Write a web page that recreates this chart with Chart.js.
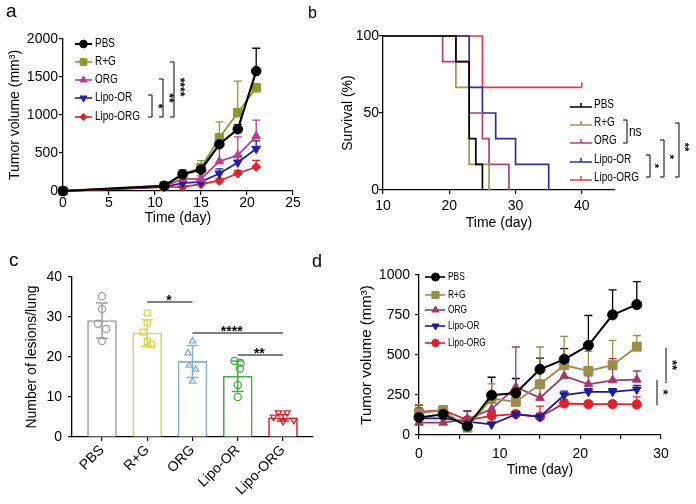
<!DOCTYPE html>
<html><head><meta charset="utf-8">
<script src="https://cdn.jsdelivr.net/npm/chart.js@4.4.1/dist/chart.umd.min.js"></script>
<style>
html,body{margin:0;padding:0;background:#fff;}
#wrap{position:relative;width:696px;height:504px;overflow:hidden;background:#fff;}
canvas{position:absolute;}
.lbl{position:absolute;font-family:"Liberation Sans",Arial,sans-serif;color:#000;line-height:20px;z-index:5;}
</style></head><body>
<div id="wrap">
<canvas id="ca" style="left:0;top:0;width:348px;height:252px" width="348" height="252"></canvas>
<canvas id="cb" style="left:330px;top:0;width:366px;height:252px" width="366" height="252"></canvas>
<canvas id="cc" style="left:0;top:252px;width:348px;height:252px" width="348" height="252"></canvas>
<canvas id="cd" style="left:348px;top:252px;width:348px;height:252px" width="348" height="252"></canvas>
<div class="lbl" style="left:6px;top:1px;font-size:19px">a</div>
<div class="lbl" style="left:308px;top:3px;font-size:16px">b</div>
<div class="lbl" style="left:9px;top:250px;font-size:19px">c</div>
<div class="lbl" style="left:312px;top:251px;font-size:18px">d</div>
</div>
<script>
// ---------------- DATA ----------------
const groups = ['PBS', 'R+G', 'ORG', 'Lipo-OR', 'Lipo-ORG'];

// Panel a: tumor volume (mm3) vs day
const daysA = [0, 11, 13, 15, 17, 19, 21];
const volA_PBS     = [0, 68, 220, 280, 615, 813, 1578];
const volA_RG      = [0, 70, 225, 305, 700, 1030, 1358];
const volA_ORG     = [0, 60, 160, 160, 390, 470, 720];
const volA_LipoOR  = [0, 55, 105, 120, 230, 375, 555];
const volA_LipoORG = [0, 50, 55, 90, 135, 230, 316];
const errA_PBS     = [0, 10, 30, 40, 40, 60, 300];
const errA_RG      = [0, 10, 25, 95, 210, 415, 40];
const errA_ORG     = [0, 10, 20, 40, 256, 242, 212];
const errA_LipoOR  = [0, 10, 20, 25, 60, 90, 104];
const errA_LipoORG = [0, 10, 15, 20, 30, 40, 88];

// Panel b: survival (%) vs day (Kaplan-Meier steps)
const survT_PBS     = [10, 21, 23, 24, 25];
const survS_PBS     = [100, 83.3, 33.3, 16.7, 0];
const survT_RG      = [10, 21, 23, 26];
const survS_RG      = [100, 66.7, 16.7, 0];
const survT_ORG     = [10, 19, 23, 25, 26, 29];
const survS_ORG     = [100, 83.3, 50, 33.3, 16.7, 0];
const survT_LipoOR  = [10, 23, 25, 27, 30, 35];
const survS_LipoOR  = [100, 66.7, 50, 33.3, 16.7, 0];
const survT_LipoORG = [10, 25, 40];
const survS_LipoORG = [100, 66.7, 66.7];

// Panel c: number of lesions/lung
const lesionMean = [29.1, 26.0, 18.9, 15.2, 4.8];
const lesionSD   = [4.4, 3.3, 4.0, 3.8, 0.8];
const lesionPts  = [[35.2, 32, 28.3, 27, 24], [31, 28.5, 26.2, 23.9, 23.1], [24, 21, 17.9, 16.9, 13.9], [19.0, 18.5, 17.1, 13.0, 10.0], [6.1, 6.1, 5.0, 4.2, 3.9]];
const lesionJit  = [[0, 0, -0.09, 0.09, 0], [0, 0, -0.09, 0, 0.1], [0, -0.1, -0.07, 0.07, 0], [-0.07, 0.06, 0.05, 0, 0], [-0.1, 0.09, -0.21, 0.24, 0]];

// Panel d: tumor volume (mm3) vs day
const daysD = [0, 3, 6, 9, 12, 15, 18, 21, 24, 27];
const volD_PBS     = [110, 130, 56, 249, 263, 411, 473, 560, 751, 815];
const volD_RG      = [135, 155, 46, 228, 207, 317, 436, 400, 436, 552];
const volD_ORG     = [77, 77, 98, 162, 300, 232, 369, 317, 342, 346];
const volD_LipoOR  = [104, 104, 83, 66, 129, 114, 249, 270, 270, 284];
const volD_LipoORG = [145, 156, 93, 120, 131, 114, 197, 193, 193, 191];
const errD_PBS     = [77, 40, 94, 112, 90, 70, 67, 187, 156, 143];
const errD_RG      = [55, 25, 45, 92, 80, 233, 180, 123, 155, 70];
const errD_ORG     = [25, 25, 52, 38, 250, 60, 77, 53, 135, 54];
const errD_LipoOR  = [26, 16, 17, 14, 11, 16, 25, 20, 20, 26];
const errD_LipoORG = [25, 14, 17, 20, 19, 66, 23, 17, 17, 47];

// ---------------- STYLE ----------------
const FONT = '"Liberation Sans", Arial, Helvetica, sans-serif';
Chart.defaults.font.family = FONT;
Chart.defaults.color = '#000';

const colA = ['#000000', '#8c9a2a', '#c23a8e', '#1f1fa8', '#e0202a'];
const colB = ['#000000', '#9a9a50', '#b04080', '#2e2e9e', '#e23c4a'];
const colC = ['#a0a0a0', '#d8d84a', '#86aed4', '#40b040', '#d8202a'];
const colD = ['#000000', '#9a8e48', '#a03868', '#1c1c9c', '#e0202a'];

const plain = v => String(v);
function gridOpts() { return {drawOnChartArea: false, drawTicks: true, tickLength: 4, color: '#000', lineWidth: 1.2}; }
function borderOpts() { return {display: true, color: '#000', width: 1.3}; }

function mkLine(label, xs, ys, errs, color, style, r, bw, rot) {
  return { label, data: xs.map((x, i) => ({x, y: ys[i]})), errUp: errs,
    borderColor: color, backgroundColor: color, pointBackgroundColor: color, pointBorderColor: color,
    pointStyle: style, pointRadius: r, pointRotation: rot || 0, pointBorderWidth: 1,
    borderWidth: bw, clip: false, tension: 0 };
}

function marker(ctx, style, r, rot, x, y, color) {
  ctx.save();
  ctx.fillStyle = color; ctx.strokeStyle = color; ctx.lineWidth = 1;
  if (Chart.helpers && Chart.helpers.drawPoint) {
    Chart.helpers.drawPoint(ctx, {pointStyle: style, radius: r, rotation: rot || 0, borderWidth: 1}, x, y);
  } else { ctx.beginPath(); ctx.arc(x, y, r, 0, Math.PI * 2); ctx.fill(); ctx.stroke(); }
  ctx.restore();
}
// condensed legend text (horizontally compressed real text)
function narrowText(ctx, txt, x, y, size, squeeze) {
  ctx.save(); ctx.translate(x, y); ctx.scale(squeeze, 1);
  ctx.fillStyle = '#000'; ctx.font = size + 'px ' + FONT; ctx.textAlign = 'left'; ctx.textBaseline = 'middle';
  ctx.fillText(txt, 0, 0); ctx.restore();
}
function bracket(ctx, x, y1, y2, stub) {
  ctx.beginPath(); ctx.moveTo(x - stub, y1); ctx.lineTo(x, y1); ctx.lineTo(x, y2); ctx.lineTo(x - stub, y2); ctx.stroke();
}
function rotText(ctx, txt, x, y, font) {
  ctx.save(); ctx.translate(x, y); ctx.rotate(Math.PI / 2); ctx.font = font;
  ctx.textAlign = 'center'; ctx.textBaseline = 'middle'; ctx.fillStyle = '#000'; ctx.fillText(txt, 0, 0); ctx.restore();
}

const errPlugin = {
  id: 'errbars',
  beforeDatasetsDraw(chart) {
    const ctx = chart.ctx, ys = chart.scales.y;
    chart.data.datasets.forEach((ds, i) => {
      if (!ds.errUp) return;
      const meta = chart.getDatasetMeta(i);
      ctx.save(); ctx.strokeStyle = ds.borderColor; ctx.lineWidth = 1.3;
      meta.data.forEach((el, j) => {
        const e = ds.errUp[j]; if (!e) return;
        const y1 = ys.getPixelForValue(ds.data[j].y + e);
        ctx.beginPath(); ctx.moveTo(el.x, el.y); ctx.lineTo(el.x, y1);
        ctx.moveTo(el.x - 4, y1); ctx.lineTo(el.x + 4, y1); ctx.stroke();
      });
      ctx.restore();
    });
  }
};

// ---------------- PANEL A ----------------
const stylesA = [['circle', 4.8, 0], ['rect', 6, 0], ['triangle', 5, 0], ['triangle', 5, 180], ['rectRot', 4.5, 0]];
const volA = [volA_PBS, volA_RG, volA_ORG, volA_LipoOR, volA_LipoORG];
const errA = [errA_PBS, errA_RG, errA_ORG, errA_LipoOR, errA_LipoORG];
new Chart(document.getElementById('ca'), {
  type: 'line',
  data: { datasets: groups.map((g, i) => mkLine(g, daysA, volA[i], errA[i], colA[i], stylesA[i][0], stylesA[i][1], i === 0 ? 2.2 : 1.8, stylesA[i][2])) },
  options: {
    responsive: false, animation: false, events: [],
    layout: {padding: {left: 0, top: 39, right: 55, bottom: 21}},
    plugins: {legend: {display: false}, tooltip: {enabled: false}},
    scales: {
      x: {type: 'linear', min: 0, max: 25, ticks: {stepSize: 5, font: {size: 14}, padding: 0, callback: plain},
          grid: gridOpts(), border: borderOpts(),
          title: {display: true, text: 'Time (day)', font: {size: 14}, padding: {top: 0, bottom: 4}},
          afterFit: s => { s.height = 40; }},
      y: {min: 0, max: 2000, ticks: {stepSize: 500, font: {size: 14}, padding: 1, callback: plain},
          grid: gridOpts(), border: borderOpts(),
          title: {display: true, text: 'Tumor volume (mm³)', font: {size: 14}, padding: {top: 7, bottom: 0}},
          afterFit: s => { s.width = 63; }}
    }
  },
  plugins: [errPlugin, {
    id: 'decoA',
    afterDraw(chart) {
      const ctx = chart.ctx, rows = [44, 62, 80, 98, 117];
      ctx.save();
      groups.forEach((g, i) => {
        ctx.strokeStyle = colA[i]; ctx.lineWidth = i === 0 ? 2 : 1.6;
        ctx.beginPath(); ctx.moveTo(75, rows[i]); ctx.lineTo(92, rows[i]); ctx.stroke();
        marker(ctx, stylesA[i][0], stylesA[i][1] * 0.8, stylesA[i][2], 83.5, rows[i], colA[i]);
        narrowText(ctx, g, 95, rows[i], 12.5, 0.8);
      });
      ctx.strokeStyle = '#000'; ctx.lineWidth = 1;
      bracket(ctx, 152, 95, 117, 4); bracket(ctx, 163, 79, 117, 4); bracket(ctx, 174, 62, 117, 4);
      rotText(ctx, '*', 157, 106, 'bold 12px ' + FONT);
      rotText(ctx, '**', 168, 98, 'bold 12px ' + FONT);
      rotText(ctx, '****', 179, 87, 'bold 12px ' + FONT);
      ctx.restore();
    }
  }]
});

// ---------------- PANEL B ----------------
const survT = [survT_PBS, survT_RG, survT_ORG, survT_LipoOR, survT_LipoORG];
const survS = [survS_PBS, survS_RG, survS_ORG, survS_LipoOR, survS_LipoORG];
new Chart(document.getElementById('cb'), {
  type: 'line',
  data: { datasets: groups.map((g, i) => ({
    label: g, data: survT[i].map((t, j) => ({x: t, y: survS[i][j]})), stepped: 'before',
    borderColor: colB[i], borderWidth: 1.7, pointRadius: 0, clip: false, fill: false })) },
  options: {
    responsive: false, animation: false, events: [],
    layout: {padding: {left: 0, top: 36, right: 81, bottom: 17}},
    plugins: {legend: {display: false}, tooltip: {enabled: false}},
    scales: {
      x: {type: 'linear', min: 10, max: 45, ticks: {stepSize: 10, font: {size: 14}, padding: 3.5, callback: plain},
          afterBuildTicks: s => { s.ticks = s.ticks.filter(t => t.value <= 40); },
          grid: gridOpts(), border: borderOpts(),
          title: {display: true, text: 'Time (day)', font: {size: 14}, padding: {top: 0, bottom: 3}},
          afterFit: s => { s.height = 45; }},
      y: {min: 0, max: 100, ticks: {stepSize: 50, font: {size: 14}, padding: 0, callback: plain},
          grid: gridOpts(), border: borderOpts(),
          title: {display: true, text: 'Survival (%)', font: {size: 14}, padding: {top: 9.6, bottom: 0}},
          afterFit: s => { s.width = 53; }}
    }
  },
  plugins: [{
    id: 'decoB',
    afterDraw(chart) {
      const ctx = chart.ctx, xs = chart.scales.x, ys = chart.scales.y;
      ctx.save();
      const cx = xs.getPixelForValue(40), cy = ys.getPixelForValue(66.7);
      ctx.strokeStyle = colB[4]; ctx.lineWidth = 1.5;
      ctx.beginPath(); ctx.moveTo(cx, cy); ctx.lineTo(cx, cy - 5); ctx.stroke();
      const rows = [105, 123, 141, 160, 178];
      groups.forEach((g, i) => {
        ctx.strokeStyle = colB[i]; ctx.lineWidth = 1.5;
        ctx.beginPath(); ctx.moveTo(240, rows[i] + 2); ctx.lineTo(262, rows[i] + 2);
        ctx.moveTo(251, rows[i] + 2); ctx.lineTo(251, rows[i] - 2); ctx.stroke();
        narrowText(ctx, g, 264, rows[i], 12.5, 0.8);
      });
      ctx.strokeStyle = '#000'; ctx.lineWidth = 1;
      bracket(ctx, 297, 120, 143, 4);
      narrowText(ctx, 'ns', 299, 132, 14, 0.85);
      bracket(ctx, 320, 155, 177, 4); bracket(ctx, 334, 140, 177, 4); bracket(ctx, 349, 123, 177, 4);
      rotText(ctx, '*', 324, 166, 'bold 11px ' + FONT);
      rotText(ctx, '*', 339, 157, 'bold 11px ' + FONT);
      rotText(ctx, '**', 354, 147, 'bold 11px ' + FONT);
      ctx.restore();
    }
  }]
});

// ---------------- PANEL C ----------------
const stylesC = [['circle', 0], ['rect', 0], ['triangle', 0], ['circle', 0], ['triangle', 180]];
new Chart(document.getElementById('cc'), {
  type: 'bar',
  data: { datasets: [
    { type: 'bar', label: 'mean', data: lesionMean.map((v, i) => ({x: i, y: v})), backgroundColor: '#ffffff',
      borderColor: colC, borderWidth: 1.6, barThickness: 29, order: 3, borderSkipped: 'bottom' }
  ].concat(groups.map((g, i) => ({
      type: 'scatter', label: g, data: lesionPts[i].map((v, j) => ({x: i + lesionJit[i][j], y: v})),
      pointStyle: stylesC[i][0], pointRotation: stylesC[i][1], pointRadius: i === 1 ? 4.2 : 3.6,
      pointBorderColor: colC[i], pointBackgroundColor: 'rgba(255,255,255,0)', pointBorderWidth: 1.3, order: 1, clip: false
  }))) },
  options: {
    responsive: false, animation: false, events: [],
    layout: {padding: {left: 0, top: 25, right: 35, bottom: 0}},
    plugins: {legend: {display: false}, tooltip: {enabled: false}},
    scales: {
      x: {type: 'linear', min: -0.663, max: 4.663, offset: false,
          afterBuildTicks: s => { s.ticks = [0, 1, 2, 3, 4].map(v => ({value: v})); },
          ticks: {callback: v => groups[v], autoSkip: false, maxRotation: 45, minRotation: 45, font: {size: 14}, padding: 1},
          grid: Object.assign(gridOpts(), {offset: false}), border: borderOpts(),
          afterFit: s => { s.height = 67; }},
      y: {min: 0, max: 40, ticks: {stepSize: 10, font: {size: 14}, padding: 6, callback: plain},
          grid: gridOpts(), border: borderOpts(),
          title: {display: true, text: 'Number of lesions/lung', font: {size: 14}, padding: {top: 23.6, bottom: 0}},
          afterFit: s => { s.width = 72; }}
    }
  },
  plugins: [{
    id: 'decoC',
    afterDatasetDraw(chart, args) {
      if (args.index !== 0) return;
      const ctx = chart.ctx, ys = chart.scales.y;
      ctx.save(); ctx.lineWidth = 1.5;
      args.meta.data.forEach((el, i) => {
        const yt = ys.getPixelForValue(lesionMean[i] + lesionSD[i]), yb = ys.getPixelForValue(lesionMean[i] - lesionSD[i]);
        ctx.strokeStyle = colC[i];
        ctx.beginPath(); ctx.moveTo(el.x, yt); ctx.lineTo(el.x, yb);
        ctx.moveTo(el.x - 6, yt); ctx.lineTo(el.x + 6, yt); ctx.moveTo(el.x - 6, yb); ctx.lineTo(el.x + 6, yb); ctx.stroke();
      });
      ctx.restore();
    },
    afterDraw(chart) {
      const ctx = chart.ctx, xs = chart.scales.x, ys = chart.scales.y;
      const sig = [[1, 2, 33.75, '*'], [2, 4, 26, '****'], [3, 4, 20.5, '**']];
      ctx.save(); ctx.strokeStyle = '#000'; ctx.lineWidth = 1.2; ctx.fillStyle = '#000';
      ctx.font = 'bold 14px ' + FONT; ctx.textAlign = 'center'; ctx.textBaseline = 'alphabetic';
      sig.forEach(([a, b, v, t]) => {
        const x1 = xs.getPixelForValue(a), x2 = xs.getPixelForValue(b), y = ys.getPixelForValue(v);
        ctx.beginPath(); ctx.moveTo(x1, y); ctx.lineTo(x2, y); ctx.stroke();
        ctx.fillText(t, (x1 + x2) / 2 - (t.length > 2 ? 6 : 1), y + 3);
      });
      ctx.restore();
    }
  }]
});

// ---------------- PANEL D ----------------
const stylesD = [['circle', 5, 0], ['rect', 6.3, 0], ['triangle', 5, 0], ['triangle', 5, 180], ['circle', 4.6, 0]];
const volD = [volD_PBS, volD_RG, volD_ORG, volD_LipoOR, volD_LipoORG];
const errD = [errD_PBS, errD_RG, errD_ORG, errD_LipoOR, errD_LipoORG];
new Chart(document.getElementById('cd'), {
  type: 'line',
  data: { datasets: groups.map((g, i) => mkLine(g, daysD, volD[i], errD[i], colD[i], stylesD[i][0], stylesD[i][1], i === 0 ? 2 : 1.8, stylesD[i][2])) },
  options: {
    responsive: false, animation: false, events: [],
    layout: {padding: {left: 0, top: 23, right: 35, bottom: 24}},
    plugins: {legend: {display: false}, tooltip: {enabled: false}},
    scales: {
      x: {type: 'linear', min: 0, max: 30, ticks: {stepSize: 5, font: {size: 14}, padding: 6.5, callback: v => (v % 10 === 0 ? String(v) : '')},
          grid: gridOpts(), border: borderOpts(),
          title: {display: true, text: 'Time (day)', font: {size: 14}, padding: {top: 0, bottom: 1}},
          afterFit: s => { s.height = 45; }},
      y: {min: 0, max: 1000, ticks: {stepSize: 250, font: {size: 14}, padding: 5, callback: plain},
          grid: gridOpts(), border: borderOpts(),
          title: {display: true, text: 'Tumor volume (mm³)', font: {size: 15}, padding: {top: 10, bottom: 0}},
          afterFit: s => { s.width = 71; }}
    }
  },
  plugins: [errPlugin, {
    id: 'decoD',
    afterDraw(chart) {
      const ctx = chart.ctx, rows = [25, 43, 58, 74, 91];
      ctx.save();
      groups.forEach((g, i) => {
        ctx.strokeStyle = colD[i]; ctx.lineWidth = 1.6;
        ctx.beginPath(); ctx.moveTo(77, rows[i]); ctx.lineTo(97, rows[i]); ctx.stroke();
        marker(ctx, stylesD[i][0], stylesD[i][1] * 0.8, stylesD[i][2], 87.5, rows[i], colD[i]);
        narrowText(ctx, g, 100, rows[i], 10.5, 0.8);
      });
      ctx.strokeStyle = '#000'; ctx.lineWidth = 1;
      ctx.beginPath(); ctx.moveTo(318, 96); ctx.lineTo(318, 131); ctx.moveTo(309, 128); ctx.lineTo(309, 153); ctx.stroke();
      rotText(ctx, '**', 324, 113, 'bold 13px ' + FONT);
      rotText(ctx, '*', 315, 140, 'bold 13px ' + FONT);
      ctx.restore();
    }
  }]
});
</script>
</body></html>
